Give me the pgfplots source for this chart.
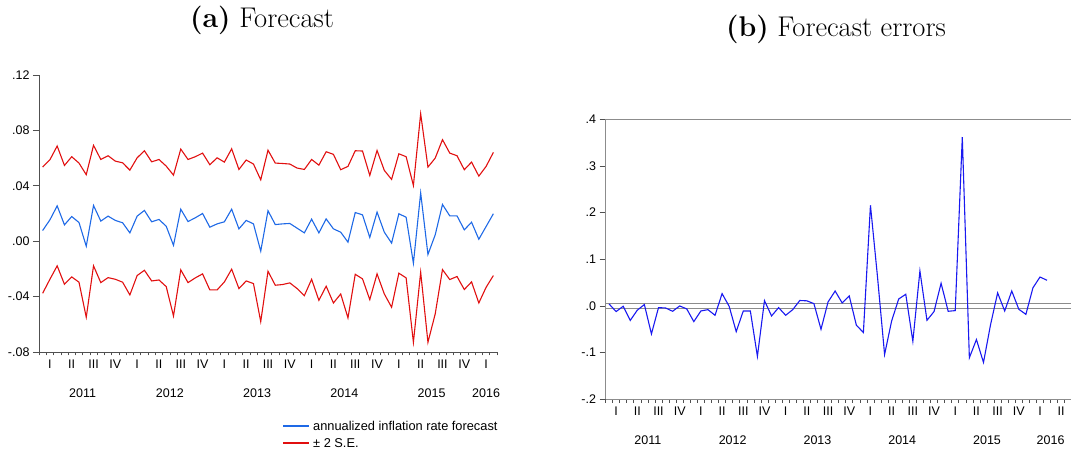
\documentclass[border=0pt]{standalone}
\usepackage{fontspec}
\newfontfamily\arial{Liberation Sans}
\usepackage{pgfplots}
\usepackage{pgfplotstable}
\pgfplotsset{compat=1.18}
\definecolor{fblue}{RGB}{30,105,230}
\definecolor{fred}{RGB}{225,15,15}
\definecolor{eblue}{RGB}{25,25,240}
\definecolor{axgray}{RGB}{80,80,80}
\definecolor{framegray}{RGB}{140,140,140}
\newcommand{\tickfont}{\arial\fontsize{12.5bp}{14bp}\selectfont}

\pgfplotstableread{
m f up lo
1 0.0077 0.0535 -0.0376
2 0.0154 0.0588 -0.0275
3 0.0255 0.0687 -0.0178
4 0.0118 0.0547 -0.0311
5 0.0178 0.0610 -0.0258
6 0.0135 0.0564 -0.0296
7 -0.0036 0.0480 -0.0549
8 0.0258 0.0692 -0.0178
9 0.0145 0.0590 -0.0299
10 0.0181 0.0617 -0.0263
11 0.0150 0.0578 -0.0275
12 0.0133 0.0566 -0.0296
13 0.0060 0.0513 -0.0388
14 0.0181 0.0602 -0.0248
15 0.0222 0.0653 -0.0210
16 0.0140 0.0573 -0.0287
17 0.0157 0.0590 -0.0280
18 0.0108 0.0542 -0.0328
19 -0.0030 0.0477 -0.0540
20 0.0231 0.0665 -0.0207
21 0.0142 0.0590 -0.0299
22 0.0169 0.0610 -0.0265
23 0.0200 0.0636 -0.0236
24 0.0101 0.0552 -0.0352
25 0.0125 0.0602 -0.0352
26 0.0140 0.0571 -0.0294
27 0.0231 0.0667 -0.0202
28 0.0089 0.0518 -0.0342
29 0.0150 0.0586 -0.0287
30 0.0125 0.0557 -0.0306
31 -0.0072 0.0443 -0.0581
32 0.0220 0.0657 -0.0217
33 0.0120 0.0564 -0.0318
34 0.0125 0.0561 -0.0313
35 0.0128 0.0557 -0.0301
36 0.0094 0.0528 -0.0342
37 0.0060 0.0518 -0.0393
38 0.0159 0.0590 -0.0275
39 0.0060 0.0549 -0.0427
40 0.0161 0.0646 -0.0325
41 0.0089 0.0627 -0.0446
42 0.0065 0.0516 -0.0381
43 -0.0007 0.0540 -0.0554
44 0.0207 0.0653 -0.0239
45 0.0190 0.0651 -0.0272
46 0.0027 0.0475 -0.0422
47 0.0210 0.0655 -0.0236
48 0.0065 0.0511 -0.0381
49 -0.0014 0.0446 -0.0477
50 0.0198 0.0631 -0.0231
51 0.0173 0.0610 -0.0265
52 -0.0159 0.0402 -0.0730
53 0.0349 0.0920 -0.0224
54 -0.0096 0.0535 -0.0730
55 0.0046 0.0600 -0.0525
56 0.0265 0.0733 -0.0205
57 0.0183 0.0636 -0.0277
58 0.0183 0.0617 -0.0255
59 0.0082 0.0516 -0.0349
60 0.0137 0.0571 -0.0294
61 0.0014 0.0470 -0.0446
62 0.0106 0.0540 -0.0333
63 0.0198 0.0641 -0.0248
}\fc

\pgfplotstableread{
m e
1 0.0043
2 -0.0120
3 -0.0007
4 -0.0310
5 -0.0090
6 0.0030
7 -0.0600
8 -0.0036
9 -0.0043
10 -0.0114
11 0.0000
12 -0.0064
13 -0.0336
14 -0.0107
15 -0.0079
16 -0.0200
17 0.0264
18 -0.0007
19 -0.0550
20 -0.0107
21 -0.0107
22 -0.1080
23 0.0114
24 -0.0214
25 -0.0036
26 -0.0200
27 -0.0079
28 0.0117
29 0.0110
30 0.0050
31 -0.0500
32 0.0086
33 0.0320
34 0.0064
35 0.0214
36 -0.0410
37 -0.0570
38 0.2157
39 0.0620
40 -0.1040
41 -0.0320
42 0.0150
43 0.0250
44 -0.0757
45 0.0750
46 -0.0307
47 -0.0120
48 0.0486
49 -0.0114
50 -0.0100
51 0.3620
52 -0.1110
53 -0.0720
54 -0.1210
55 -0.0400
56 0.0280
57 -0.0107
58 0.0320
59 -0.0071
60 -0.0180
61 0.0390
62 0.0620
63 0.0550
}\fe

\pgfplotsset{
  evstyle/.style={
    scale only axis, anchor=south west, clip=false,
    tick align=outside,
    major tick length=6bp, minor tick length=3.5bp,
    tick label style={font=\tickfont},
    every major x tick/.append style={draw=none},
    xtick pos=bottom, ytick pos=left,
    every tick/.append style={axgray, line width=0.6bp},
    xticklabel style={yshift=2bp},
  }
}

\begin{document}
\begin{tikzpicture}[x=1bp,y=1bp]
\node[font=\fontsize{28.5bp}{34bp}\selectfont, anchor=base] at (262,426) {\textbf{(a)}\ Forecast};
\node[font=\fontsize{28.5bp}{34bp}\selectfont, anchor=base] at (836,417) {\textbf{(b)}\ Forecast errors};

\begin{axis}[evstyle,
  at={(39bp,102bp)}, width=458bp, height=277bp,
  xmin=0.5, xmax=63.5, ymin=-0.08, ymax=0.12,
  axis x line*=bottom, axis y line*=left,
  axis line style={axgray, line width=0.8bp},
  ytick={-0.08,-0.04,0,0.04,0.08,0.12},
  yticklabels={-.08,-.04,.00,.04,.08,.12},
  xtick={2,5,...,62},
  xticklabels={I,II,III,IV,I,II,III,IV,I,II,III,IV,I,II,III,IV,I,II,III,IV,I},
  minor xtick={0.5,1.5,...,63.5},
]
\addplot[fblue, line width=1.1bp] table[x=m, y=f] {\fc};
\addplot[fred, line width=1.1bp] table[x=m, y=up] {\fc};
\addplot[fred, line width=1.1bp] table[x=m, y=lo] {\fc};
\foreach \yr/\xx in {2011/6.5, 2012/18.5, 2013/30.5, 2014/42.5, 2015/54.5, 2016/62} {
  \edef\tmp{\noexpand\node[font=\noexpand\tickfont] at (axis cs:\xx,-0.08) [yshift=-41bp] {\yr};}
  \tmp
}
\end{axis}

% legend
\draw[fblue, line width=1.1bp] (283,28) -- (309,28);
\node[anchor=west, inner sep=0pt, font=\arial\fontsize{12.8bp}{15bp}\selectfont] at (313,28) {annualized inflation rate forecast};
\draw[fred, line width=1.1bp] (283,11) -- (309,11);
\node[anchor=west, inner sep=0pt, font=\arial\fontsize{12.8bp}{15bp}\selectfont] at (313,11) {± 2 S.E.};

\begin{axis}[evstyle,
  at={(605.5bp,54.7bp)}, width=466.3bp, height=280bp,
  xmin=0.5, xmax=66.5, ymin=-0.2, ymax=0.4,
  axis x line*=box, axis y line*=left,
  axis line style={framegray, line width=0.8bp},
  ytick={-0.2,-0.1,0,0.1,0.2,0.3,0.4},
  yticklabels={-.2,-.1,.0,.1,.2,.3,.4},
  xtick={2,5,...,65},
  xticklabels={I,II,III,IV,I,II,III,IV,I,II,III,IV,I,II,III,IV,I,II,III,IV,I,II},
  minor xtick={0.5,1.5,...,66.5},
]
\addplot[framegray, line width=0.8bp] coordinates {(0.5,0.0057) (66.5,0.0057)};
\addplot[framegray, line width=0.8bp] coordinates {(0.5,-0.0057) (66.5,-0.0057)};
\addplot[eblue, line width=1.1bp] table[x=m, y=e] {\fe};
\foreach \yr/\xx in {2011/6.5, 2012/18.5, 2013/30.5, 2014/42.5, 2015/54.5, 2016/63.5} {
  \edef\tmp{\noexpand\node[font=\noexpand\tickfont] at (axis cs:\xx,-0.2) [yshift=-41bp] {\yr};}
  \tmp
}
\end{axis}
\pgfresetboundingbox
\path (0,0) rectangle (1071,454);
\end{tikzpicture}
\end{document}
